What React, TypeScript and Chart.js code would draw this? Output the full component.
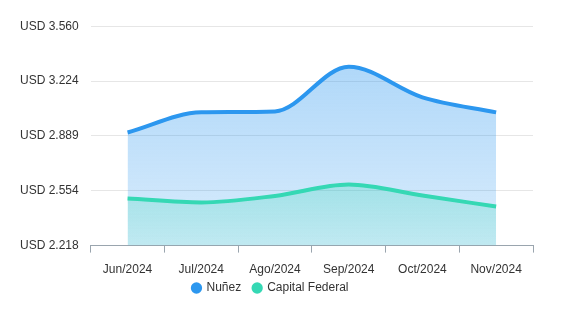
import React, { useEffect, useRef } from "react";
import { Chart, registerables } from "chart.js";

Chart.register(...registerables);

const categories = ["Jun/2024", "Jul/2024", "Ago/2024", "Sep/2024", "Oct/2024", "Nov/2024"];
const nunezValues = [2910, 3033, 3039, 3312, 3125, 3033];
const capitalValues = [2506, 2482, 2522, 2592, 2524, 2457];
const yTickValues = [2218, 2554, 2889, 3224, 3560];
const yTickLabels = ["USD 2.218", "USD 2.554", "USD 2.889", "USD 3.224", "USD 3.560"];
const seriesColors = ["#2C97EF", "#35D8B4"];

const legendLift = {
  id: "legendLift",
  afterLayout(chart: any) {
    const lg = chart.legend;
    if (lg) {
      lg.top -= 13;
      lg.bottom -= 13;
    }
  },
};

export default function App() {
  const ref = useRef<HTMLCanvasElement | null>(null);
  useEffect(() => {
    const canvas = ref.current;
    if (!canvas) return;
    const font = { family: "'Liberation Sans', Arial, sans-serif", size: 12 };
    const gradient = (ctx: any, area: any, top: string, bottom: string) => {
      const g = ctx.createLinearGradient(0, area.top, 0, area.bottom);
      g.addColorStop(0, top);
      g.addColorStop(1, bottom);
      return g;
    };
    const chart = new Chart(canvas, {
      type: "line",
      plugins: [legendLift],
      data: {
        labels: categories,
        datasets: [
          {
            label: "Nuñez",
            data: nunezValues,
            borderColor: seriesColors[0],
            backgroundColor: (c: any) => {
              const a = c.chart.chartArea;
              if (!a) return "rgba(44,151,239,0.35)";
              return gradient(c.chart.ctx, a, "rgba(44,151,239,0.42)", "rgba(44,151,239,0.18)");
            },
            borderWidth: 4,
            fill: "start",
            pointRadius: 0,
            cubicInterpolationMode: "monotone",
            order: 2,
          },
          {
            label: "Capital Federal",
            data: capitalValues,
            borderColor: seriesColors[1],
            backgroundColor: (c: any) => {
              const a = c.chart.chartArea;
              if (!a) return "rgba(53,216,180,0.4)";
              return gradient(c.chart.ctx, a, "rgba(53,216,180,0.6)", "rgba(53,216,180,0.15)");
            },
            borderWidth: 4,
            fill: "start",
            pointRadius: 0,
            cubicInterpolationMode: "monotone",
            order: 1,
          },
        ],
      },
      options: {
        animation: false,
        responsive: true,
        maintainAspectRatio: false,
        layout: { padding: { top: 10, right: 37, left: 0, bottom: 0 } },
        plugins: {
          legend: {
            position: "bottom",
            labels: {
              usePointStyle: true,
              pointStyle: "circle",
              boxWidth: 8,
              boxHeight: 8,
              color: "#333",
              font,
              padding: 12,
              sort: (a: any, b: any) => a.datasetIndex - b.datasetIndex,
              generateLabels: (ch: any) =>
                ch.data.datasets.map((ds: any, i: number) => ({
                  text: ds.label,
                  fillStyle: seriesColors[i],
                  strokeStyle: seriesColors[i],
                  lineWidth: 0,
                  pointStyle: "circle",
                  hidden: !ch.isDatasetVisible(i),
                  datasetIndex: i,
                  fontColor: "#333",
                })),
            },
          },
          tooltip: { enabled: false },
        },
        scales: {
          x: {
            offset: true,
            afterFit: (scale: any) => {
              scale.height -= 4;
            },
            grid: { display: true, offset: true, drawOnChartArea: false, drawTicks: true, tickLength: 7, color: "#9aa5ae" },
            border: { display: true, color: "#9aa5ae" },
            ticks: { color: "#333", font, padding: 10, maxRotation: 0 },
          },
          y: {
            min: 2218,
            max: 3560,
            afterBuildTicks: (axis: any) => {
              axis.ticks = yTickValues.map((v) => ({ value: v }));
            },
            grid: { color: "#e6e6e6", drawTicks: false },
            border: { display: false },
            ticks: {
              color: "#333",
              font,
              padding: 12,
              callback: (v: any) => {
                const i = yTickValues.indexOf(Number(v));
                return i >= 0 ? yTickLabels[i] : "";
              },
            },
          },
        },
      },
    });
    return () => chart.destroy();
  }, []);
  return (
    <div style={{ width: 562, height: 310, position: "relative", marginTop: -1 }}>
      <canvas ref={ref} />
    </div>
  );
}
